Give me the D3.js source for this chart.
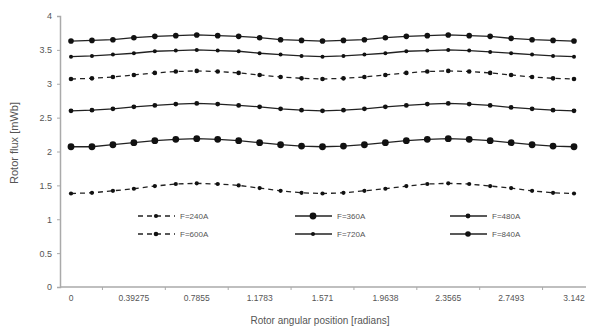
<!DOCTYPE html>
<html>
<head>
<meta charset="utf-8">
<script src="https://cdn.jsdelivr.net/npm/d3@7"></script>
<style>
  body { margin: 0; background: #fff; }
  svg { display: block; font-family: "Liberation Sans", Arial, sans-serif; }
</style>
</head>
<body>
<div id="chart"></div>
<script>
// rotor angular position, 25 samples from 0 to pi
const positions = d3.range(25).map(i => +(i * 3.142 / 24).toFixed(4));
const xTickValues = [0, 0.39275, 0.7855, 1.1783, 1.571, 1.9638, 2.3565, 2.7493, 3.142];
const xTickLabels = ["0", "0.39275", "0.7855", "1.1783", "1.571", "1.9638", "2.3565", "2.7493", "3.142"];
const yTickValues = [0, 0.5, 1, 1.5, 2, 2.5, 3, 3.5, 4];

const seriesNames = ["F=240A", "F=360A", "F=480A", "F=600A", "F=720A", "F=840A"];
const flux240 = [1.38,1.39,1.42,1.45,1.49,1.52,1.53,1.52,1.50,1.46,1.42,1.39,1.38,1.39,1.42,1.45,1.49,1.52,1.53,1.52,1.49,1.46,1.42,1.39,1.38];
const flux360 = [2.07,2.07,2.10,2.13,2.16,2.18,2.19,2.18,2.16,2.13,2.10,2.08,2.07,2.08,2.10,2.13,2.16,2.18,2.19,2.18,2.16,2.13,2.10,2.08,2.07];
const flux480 = [2.60,2.61,2.63,2.66,2.68,2.70,2.71,2.70,2.68,2.66,2.63,2.61,2.60,2.61,2.63,2.66,2.68,2.70,2.71,2.70,2.68,2.65,2.63,2.61,2.60];
const flux600 = [3.07,3.08,3.10,3.13,3.16,3.18,3.19,3.18,3.16,3.13,3.10,3.08,3.07,3.08,3.10,3.13,3.16,3.18,3.19,3.18,3.16,3.13,3.10,3.08,3.07];
const flux720 = [3.40,3.41,3.43,3.45,3.48,3.49,3.50,3.49,3.48,3.45,3.43,3.41,3.40,3.41,3.43,3.45,3.48,3.49,3.50,3.49,3.47,3.45,3.43,3.41,3.40];
const flux840 = [3.63,3.64,3.65,3.68,3.70,3.71,3.72,3.71,3.70,3.68,3.65,3.64,3.63,3.64,3.65,3.68,3.70,3.71,3.72,3.71,3.70,3.67,3.65,3.64,3.63];

const allFlux = [flux240, flux360, flux480, flux600, flux720, flux840];
// per-series look: dash pattern and marker radius
const styles = [
  { dash: "5,4", r: 2.1 },
  { dash: null, r: 3.4 },
  { dash: null, r: 2.4 },
  { dash: "5,4", r: 2.3 },
  { dash: null, r: 2.0 },
  { dash: null, r: 2.8 }
];

const width = 590, height = 331;
const svg = d3.select("#chart").append("svg").attr("width", width).attr("height", height);

const x = d3.scaleLinear().domain([0, 3.142]).range([71, 574]);
const y = d3.scaleLinear().domain([0, 4]).range([287, 16]);
const axisX0 = 60;

const gray = "#aaa";
const textCol = "#555";

// y axis
const yAxis = svg.append("g").attr("transform", `translate(${axisX0},0)`)
  .call(d3.axisLeft(y).tickValues(yTickValues).tickSize(3).tickFormat(d3.format("~g")));
yAxis.select(".domain").attr("stroke", gray).attr("stroke-width", 1.5);
yAxis.selectAll(".tick line").attr("stroke", gray);
yAxis.selectAll(".tick text").attr("fill", textCol).style("font-size", "9px").attr("x", -8);

// x axis line + ticks between labels
svg.append("line").attr("x1", axisX0).attr("x2", 586).attr("y1", y(0)).attr("y2", y(0))
  .attr("stroke", gray).attr("stroke-width", 1.5);
const halfTicks = xTickValues.slice(0, -1).map((v, i) => (v + xTickValues[i + 1]) / 2);
svg.append("g").selectAll("line").data(halfTicks).enter().append("line")
  .attr("x1", d => x(d)).attr("x2", d => x(d))
  .attr("y1", y(0)).attr("y2", y(0) + 3)
  .attr("stroke", gray);
svg.append("g").selectAll("text").data(xTickValues).enter().append("text")
  .attr("x", d => x(d)).attr("y", y(0) + 14)
  .attr("text-anchor", "middle").attr("fill", textCol).style("font-size", "8.5px")
  .text((d, i) => xTickLabels[i]);

// titles
svg.append("text").attr("x", 320).attr("y", 324).attr("text-anchor", "middle")
  .attr("fill", textCol).style("font-size", "10px").text("Rotor angular position [radians]");
svg.append("text").attr("transform", "translate(18,143) rotate(-90)").attr("text-anchor", "middle")
  .attr("fill", textCol).style("font-size", "11px").text("Rotor flux [mWb]");

// series
const line = d3.line().x((d, i) => x(positions[i])).y(d => y(d));
allFlux.forEach((vals, k) => {
  const g = svg.append("g");
  g.append("path").datum(vals).attr("d", line)
    .attr("fill", "none").attr("stroke", "#222").attr("stroke-width", 1.3)
    .attr("stroke-dasharray", styles[k].dash);
  g.selectAll("circle").data(vals).enter().append("circle")
    .attr("cx", (d, i) => x(positions[i])).attr("cy", d => y(d))
    .attr("r", styles[k].r).attr("fill", "#111");
});

// legend
const legCols = [138, 295, 450];
const legRows = [216, 234];
seriesNames.forEach((name, k) => {
  const lx = legCols[k % 3], ly = legRows[Math.floor(k / 3)];
  const g = svg.append("g");
  g.append("line").attr("x1", lx).attr("x2", lx + 37).attr("y1", ly).attr("y2", ly)
    .attr("stroke", "#222").attr("stroke-width", 1.3).attr("stroke-dasharray", styles[k].dash);
  g.append("circle").attr("cx", lx + 18).attr("cy", ly).attr("r", styles[k].r).attr("fill", "#111");
  g.append("text").attr("x", lx + 42).attr("y", ly + 3).attr("fill", textCol)
    .style("font-size", "8px").text(name);
});
</script>
</body>
</html>
